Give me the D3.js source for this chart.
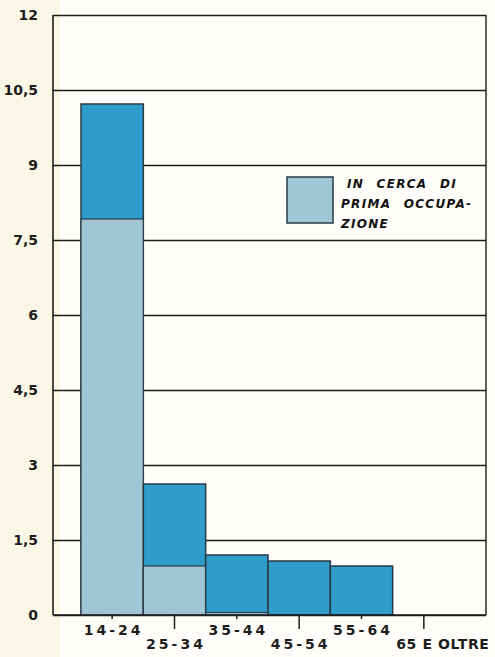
<!DOCTYPE html>
<html>
<head>
<meta charset="utf-8">
<script src="https://cdn.jsdelivr.net/npm/d3@7"></script>
<style>
  html, body { margin: 0; padding: 0; background: #fffdf6; }
  svg { display: block; }
</style>
</head>
<body>
<svg id="chart" width="495" height="657"></svg>
<script>
// ---- data ----
const categories = ["14-24", "25-34", "35-44", "45-54", "55-64", "65 E OLTRE"];
const primaOccupazione = [7.92, 0.98, 0.05, 0, 0, 0];   // light blue (in cerca di prima occupazione)
const altri = [2.30, 1.64, 1.15, 1.08, 0.98, 0];          // dark blue (rest)
const yTicks = [0, 1.5, 3, 4.5, 6, 7.5, 9, 10.5, 12];
const yTickLabels = ["0", "1,5", "3", "4,5", "6", "7,5", "9", "10,5", "12"];
const legendLines = ["IN CERCA DI", "PRIMA OCCUPA-", "ZIONE"];

// ---- layout ----
const svg = d3.select("#chart");
const plot = { left: 53, right: 486, top: 15, bottom: 615 };
const colLight = "#a0c6d6";
const colDark = "#2e9dcb";
const ink = "#1d1d1d";

const x = d3.scaleBand().domain(categories).range([81, 455]).padding(0);
const y = d3.scaleLinear().domain([0, 12]).range([plot.bottom, plot.top]);

// paper background with cream tint on left side
svg.append("rect").attr("x", 0).attr("y", 0).attr("width", 495).attr("height", 657).attr("fill", "#fffefa");
svg.append("rect").attr("x", 0).attr("y", 0).attr("width", 60).attr("height", 657).attr("fill", "#fbf7e6");

// y axis with grid lines
const yAxis = d3.axisLeft(y)
  .tickValues(yTicks)
  .tickFormat((d, i) => yTickLabels[i])
  .tickSize(-(plot.right - plot.left))
  .tickPadding(15);
const gy = svg.append("g").attr("transform", `translate(${plot.left},0)`).call(yAxis);
gy.select(".domain").remove();
gy.selectAll(".tick line").attr("stroke", ink).attr("stroke-width", 1.5);
gy.selectAll(".tick text")
  .attr("fill", ink)
  .style("font-family", "'DejaVu Sans', sans-serif")
  .style("font-size", "14px")
  .style("font-weight", "bold");

// frame: left axis, right border
svg.append("line").attr("x1", plot.left).attr("x2", plot.left).attr("y1", y(12)).attr("y2", y(0))
  .attr("stroke", ink).attr("stroke-width", 1.6);
svg.append("line").attr("x1", plot.right).attr("x2", plot.right).attr("y1", y(12)).attr("y2", y(0))
  .attr("stroke", ink).attr("stroke-width", 1.4);

// stacked bars
const stacked = categories.map((c, i) => ({ cat: c, light: primaOccupazione[i], dark: altri[i] }));
const barsG = svg.append("g");
stacked.forEach(d => {
  const total = d.light + d.dark;
  if (total <= 0) return;
  barsG.append("rect")
    .attr("x", x(d.cat)).attr("width", x.bandwidth())
    .attr("y", y(total)).attr("height", y(0) - y(total))
    .attr("fill", colDark).attr("stroke", "#2a3a44").attr("stroke-width", 1.5);
  if (d.light > 0) {
    barsG.append("rect")
      .attr("x", x(d.cat)).attr("width", x.bandwidth())
      .attr("y", y(d.light)).attr("height", y(0) - y(d.light))
      .attr("fill", colLight).attr("stroke", "#2a3a44").attr("stroke-width", 1.2);
  }
});

// bottom axis line
svg.append("line").attr("x1", plot.left).attr("x2", plot.right).attr("y1", y(0)).attr("y2", y(0))
  .attr("stroke", ink).attr("stroke-width", 1.6);

// x axis: alternating short/long ticks
function styleX(g) {
  g.select(".domain").remove();
  g.selectAll(".tick line").attr("stroke", ink).attr("stroke-width", 1.5);
  g.selectAll(".tick text")
    .attr("fill", ink)
    .attr("dx", 1.5)
    .style("font-family", "'DejaVu Sans', sans-serif")
    .style("font-size", "14px")
    .style("font-weight", "bold")
    .style("letter-spacing", "3px");
}
const even = categories.filter((c, i) => i % 2 === 0);
const odd = categories.filter((c, i) => i % 2 === 1);

const gx1 = svg.append("g").attr("transform", `translate(0,${plot.bottom})`)
  .call(d3.axisBottom(x).tickValues(even).tickSize(4).tickPadding(6));
styleX(gx1);
const gx2 = svg.append("g").attr("transform", `translate(0,${plot.bottom})`)
  .call(d3.axisBottom(x).tickValues(odd).tickSize(14).tickPadding(10));
styleX(gx2);
gx2.selectAll(".tick text").filter(d => d === "65 E OLTRE")
  .attr("dx", 19).style("letter-spacing", "0.6px");

// legend
const lg = svg.append("g");
lg.append("rect").attr("x", 287).attr("y", 177).attr("width", 46).attr("height", 46)
  .attr("fill", colLight).attr("stroke", "#2a3a44").attr("stroke-width", 1.5);
const lt = lg.append("text")
  .attr("fill", "#111")
  .style("font-family", "'DejaVu Sans', sans-serif")
  .style("font-size", "12px")
  .style("font-style", "italic")
  .style("font-weight", "bold")
  .style("letter-spacing", "1.3px")
  .style("word-spacing", "7px");
legendLines.forEach((t, i) => {
  lt.append("tspan").attr("x", i === 0 ? 347 : 341).attr("y", 188 + i * 20).text(t);
});
</script>
</body>
</html>
